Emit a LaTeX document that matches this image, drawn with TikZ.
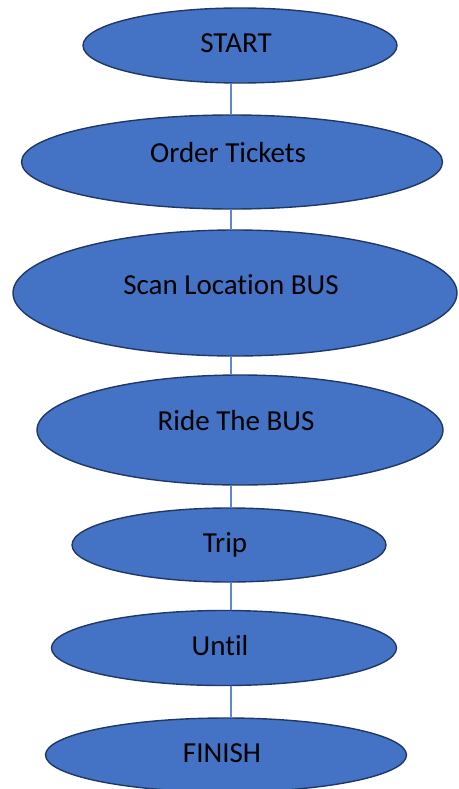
\documentclass[tikz,border=0pt]{standalone}
\usepackage{fontspec}
\setmainfont{Carlito}[Ligatures=NoCommon]
\usetikzlibrary{shapes.geometric}
\definecolor{boxblue}{HTML}{4472C4}
\definecolor{rimblue}{HTML}{203864}
\begin{document}
\begin{tikzpicture}[x=1pt,y=-1pt,line join=round,line cap=round]
	\tikzset{stage/.style={ellipse,draw=rimblue,fill=boxblue,line width=1.4pt,inner sep=0pt,
			font=\fontsize{29}{34}\selectfont,text height=20pt,text depth=6pt,
			execute at end node={\hspace{8pt}}},
		up/.style={text depth=#1},
		link/.style={draw=boxblue!85!white,line width=1.3pt}}
	\useasboundingbox (0,0) rectangle (458,789);
	
	% --- Các bước ---
	\node[stage,minimum width=314pt,minimum height=75pt] (start) at (240,45.5) {START};
	\node[stage,up=20pt,minimum width=421pt,minimum height=94pt] (order) at (232,162) {Order Tickets};
	\node[stage,up=18pt,minimum width=444pt,minimum height=126pt] (scan) at (235,293) {Scan Location BUS};
	\node[stage,up=20pt,minimum width=406pt,minimum height=110pt] (ride) at (240,430) {Ride The BUS};
	\node[stage,minimum width=314pt,minimum height=74pt] (trip) at (229,545) {Trip};
	\node[stage,minimum width=345pt,minimum height=75pt] (until) at (224,648) {Until};
	\node[stage,minimum width=361pt,minimum height=74pt] (finish) at (226,755) {FINISH};
	
	% --- Đường nối ---
	\coordinate (spine) at (231,0);
	\draw[link] (start.south -| spine)--(order.north -| spine);
	\draw[link] (order.south -| spine)--(scan.north -| spine);
	\draw[link] (scan.south -| spine)--(ride.north -| spine);
	\draw[link] (ride.south -| spine)--(trip.north -| spine);
	\draw[link] (trip.south -| spine)--(until.north -| spine);
	\draw[link] (until.south -| spine)--(finish.north -| spine);
\end{tikzpicture}
\end{document}
